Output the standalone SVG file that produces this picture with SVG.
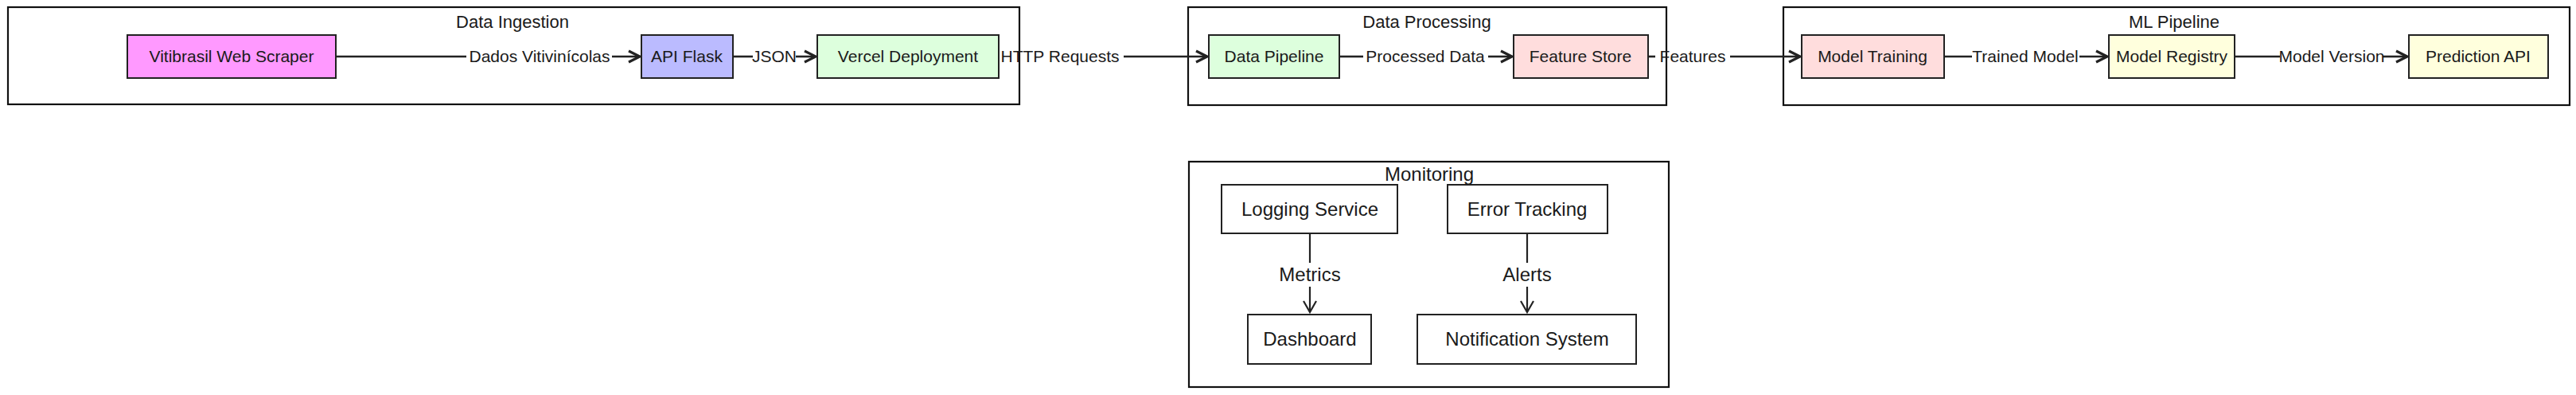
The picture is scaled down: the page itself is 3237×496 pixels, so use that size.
<svg xmlns="http://www.w3.org/2000/svg" width="3237" height="496" viewBox="0 0 3237 496">
<defs>
<style>
.cl{fill:#ffffff;stroke:#111;stroke-width:2.2}
.nd{stroke:#222;stroke-width:2}
.t{font-family:"Liberation Sans",Arial,sans-serif;font-size:21px;fill:#1a1a1a;text-anchor:middle}
.tm{font-family:"Liberation Sans",Arial,sans-serif;font-size:24px;fill:#1a1a1a;text-anchor:middle}
.ttl{font-family:"Liberation Sans",Arial,sans-serif;font-size:22px;fill:#1a1a1a;text-anchor:middle}
.e{fill:none;stroke:#222;stroke-width:2.6}
.em{fill:none;stroke:#222;stroke-width:2.2}
</style>
<marker id="arr" viewBox="0 0 18 18" refX="16" refY="9" markerWidth="18" markerHeight="18" orient="auto" markerUnits="userSpaceOnUse">
<path d="M2,2 L16,9 L2,16" fill="none" stroke="#222" stroke-width="3.2" stroke-linejoin="miter"/>
</marker>
<marker id="arrm" viewBox="0 0 18 18" refX="16" refY="9" markerWidth="18" markerHeight="18" orient="auto" markerUnits="userSpaceOnUse">
<path d="M2,1 L16,9 L2,17" fill="none" stroke="#222" stroke-width="2.2"/>
</marker>
</defs>
<rect width="3237" height="496" fill="#ffffff"/>

<g id="cluster-data-ingestion">
<rect class="cl" x="10" y="9" width="1271" height="122"/>
<text class="ttl" x="644" y="35">Data Ingestion</text>
</g>
<g id="cluster-data-processing">
<rect class="cl" x="1493" y="9" width="601" height="123"/>
<text class="ttl" x="1793" y="35">Data Processing</text>
</g>
<g id="cluster-ml-pipeline">
<rect class="cl" x="2241" y="9" width="988" height="123"/>
<text class="ttl" x="2732" y="35">ML Pipeline</text>
</g>
<g id="cluster-monitoring">
<rect class="cl" x="1494" y="203" width="603" height="283"/>
<text class="tm" x="1796" y="227">Monitoring</text>
</g>

<g id="connectors">
<path class="e" d="M422,71 L586,71"/>
<path class="e" d="M769,71 L804,71" marker-end="url(#arr)"/>
<text class="t" x="678" y="78">Dados Vitivinícolas</text>

<path class="e" d="M921,71 L946,71"/>
<path class="e" d="M1000,71 L1025,71" marker-end="url(#arr)"/>
<text class="t" x="973" y="78">JSON</text>

<path class="e" d="M1412,71 L1517,71" marker-end="url(#arr)"/>
<text class="t" x="1332" y="78">HTTP Requests</text>

<path class="e" d="M1683,71 L1713,71"/>
<path class="e" d="M1870,71 L1900,71" marker-end="url(#arr)"/>
<text class="t" x="1791" y="78">Processed Data</text>

<path class="e" d="M2071,71 L2080,71"/>
<path class="e" d="M2174,71 L2262,71" marker-end="url(#arr)"/>
<text class="t" x="2127" y="78">Features</text>

<path class="e" d="M2443,71 L2478,71"/>
<path class="e" d="M2613,71 L2648,71" marker-end="url(#arr)"/>
<text class="t" x="2545" y="78">Trained Model</text>

<path class="e" d="M2808,71 L2865,71"/>
<path class="e" d="M2994,71 L3025,71" marker-end="url(#arr)"/>
<text class="t" x="2930" y="78">Model Version</text>

<path class="em" d="M1646,293 L1646,330"/>
<path class="em" d="M1646,360 L1646,392" marker-end="url(#arrm)"/>
<text class="tm" x="1646" y="353">Metrics</text>

<path class="em" d="M1919,293 L1919,330"/>
<path class="em" d="M1919,360 L1919,392" marker-end="url(#arrm)"/>
<text class="tm" x="1919" y="353">Alerts</text>
</g>

<g id="node-vitibrasil">
<rect class="nd" x="160" y="44" width="262" height="54" fill="#ff99ff"/>
<text class="t" x="291" y="78">Vitibrasil Web Scraper</text>
</g>
<g id="node-api-flask">
<rect class="nd" x="806" y="44" width="115" height="54" fill="#bbbbff"/>
<text class="t" x="863" y="78">API Flask</text>
</g>
<g id="node-vercel">
<rect class="nd" x="1027" y="44" width="228" height="54" fill="#ddffdd"/>
<text class="t" x="1141" y="78">Vercel Deployment</text>
</g>
<g id="node-data-pipeline">
<rect class="nd" x="1519" y="44" width="164" height="54" fill="#ddffdd"/>
<text class="t" x="1601" y="78">Data Pipeline</text>
</g>
<g id="node-feature-store">
<rect class="nd" x="1902" y="44" width="169" height="54" fill="#ffdddd"/>
<text class="t" x="1986" y="78">Feature Store</text>
</g>
<g id="node-model-training">
<rect class="nd" x="2264" y="44" width="179" height="54" fill="#ffdddd"/>
<text class="t" x="2353" y="78">Model Training</text>
</g>
<g id="node-model-registry">
<rect class="nd" x="2650" y="44" width="158" height="54" fill="#ffffdd"/>
<text class="t" x="2729" y="78">Model Registry</text>
</g>
<g id="node-prediction-api">
<rect class="nd" x="3027" y="44" width="175" height="54" fill="#ffffdd"/>
<text class="t" x="3114" y="78">Prediction API</text>
</g>

<g id="node-logging">
<rect class="nd" x="1535" y="232" width="221" height="61" fill="#ffffff"/>
<text class="tm" x="1646" y="271">Logging Service</text>
</g>
<g id="node-error-tracking">
<rect class="nd" x="1819" y="232" width="201" height="61" fill="#ffffff"/>
<text class="tm" x="1919" y="271">Error Tracking</text>
</g>
<g id="node-dashboard">
<rect class="nd" x="1568" y="395" width="155" height="62" fill="#ffffff"/>
<text class="tm" x="1646" y="434">Dashboard</text>
</g>
<g id="node-notification">
<rect class="nd" x="1781" y="395" width="275" height="62" fill="#ffffff"/>
<text class="tm" x="1919" y="434">Notification System</text>
</g>
</svg>
